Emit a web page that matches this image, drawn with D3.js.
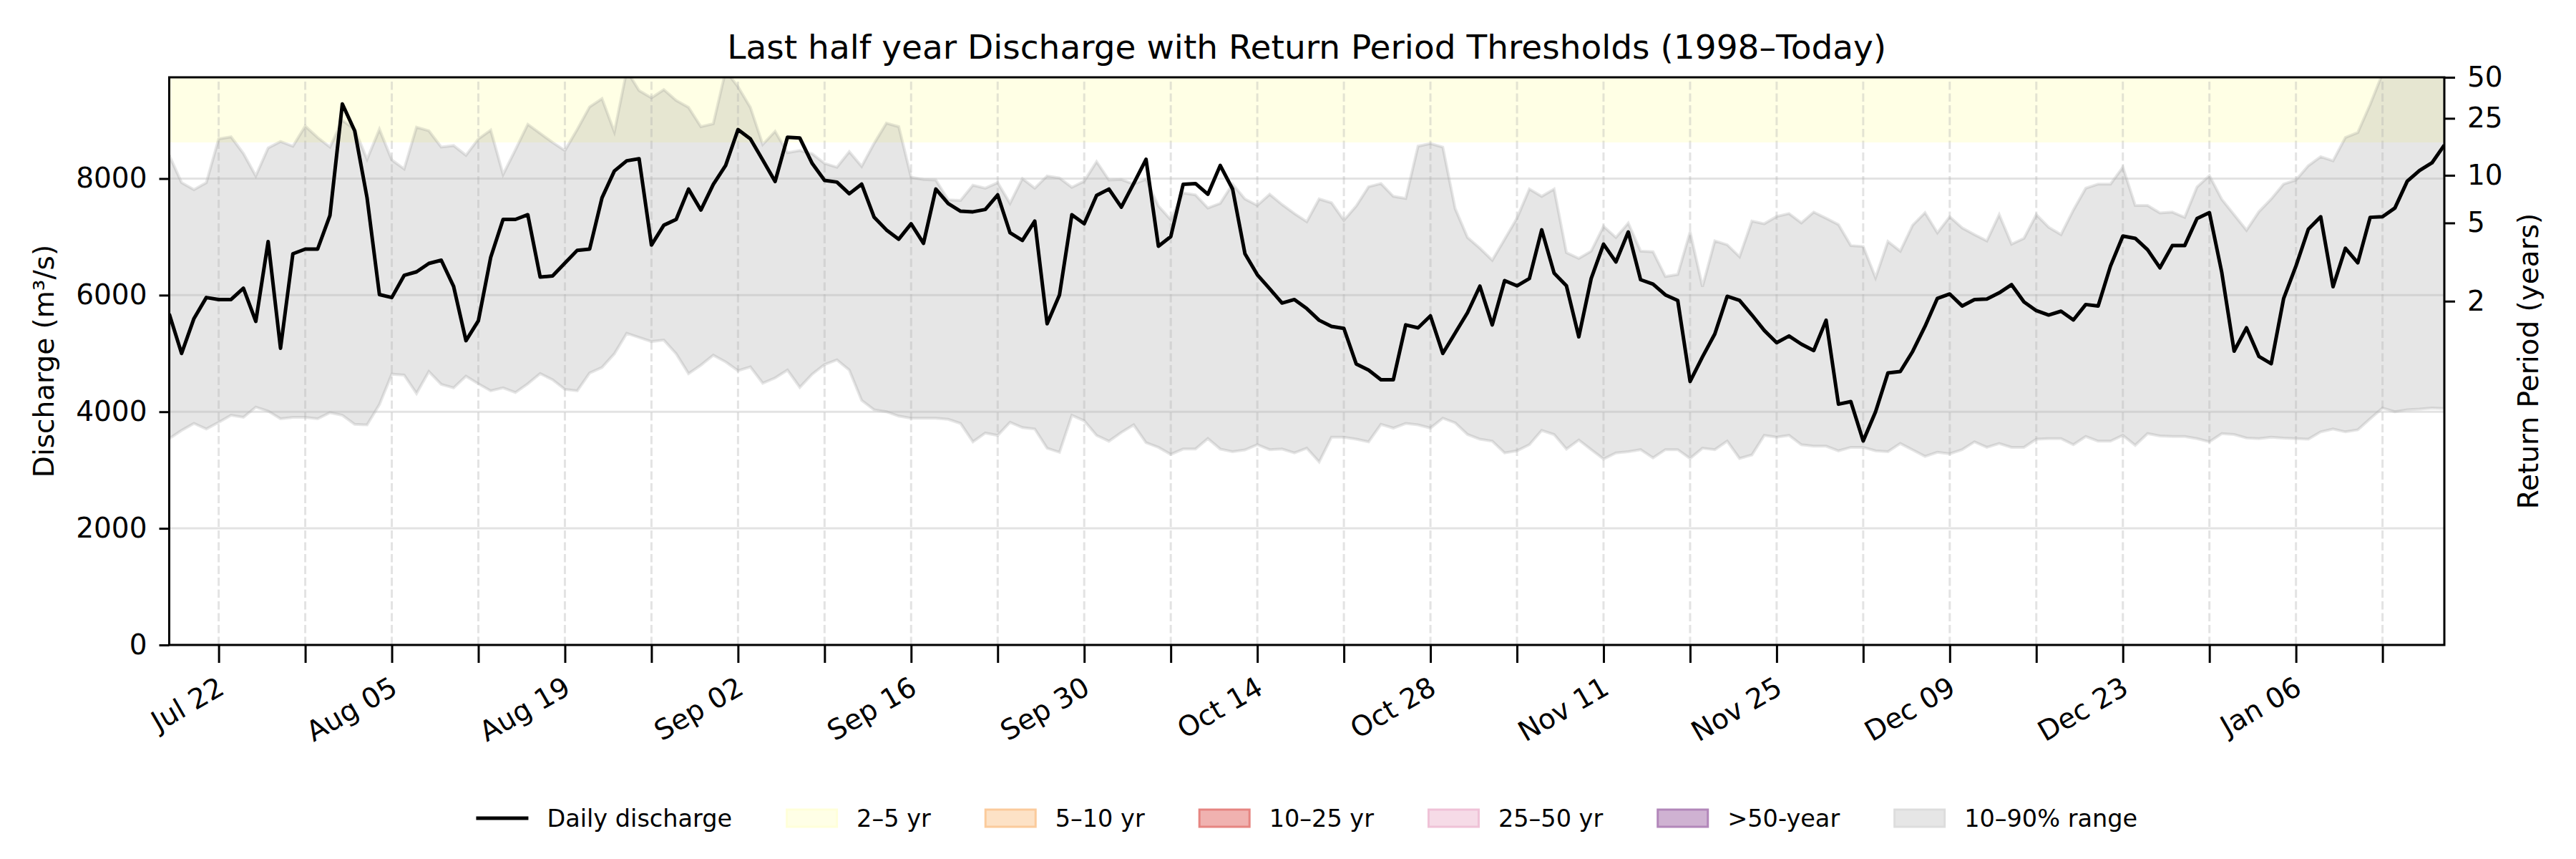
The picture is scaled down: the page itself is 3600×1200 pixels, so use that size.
<!DOCTYPE html>
<html>
<head>
<meta charset="utf-8">
<script src="https://cdn.jsdelivr.net/npm/d3@7"></script>
<style>
  body { margin: 0; background: #fff; }
  svg { display: block; font-family: "DejaVu Sans", sans-serif; }
</style>
</head>
<body>
<svg id="chart" width="3600" height="1200"></svg>
<script>
// daily series, starting Jul 18, one value per day
const startDate = new Date(2024, 6, 18);

const discharge = [
  5680, 5000, 5600, 5960, 5925, 5925, 6120, 5550, 6920, 5090,
  6710, 6790, 6790, 7370, 9280, 8820, 7670, 6010, 5960, 6340,
  6400, 6545, 6600, 6150, 5220, 5560, 6650, 7300, 7300, 7380,
  6310, 6330, 6550, 6770, 6790, 7670, 8130, 8305, 8340, 6860,
  7200, 7300, 7820, 7460, 7900, 8225, 8840, 8680, 8320, 7950,
  8710, 8695, 8260, 7970, 7940, 7740, 7905, 7340, 7120, 6960,
  7225, 6890, 7820, 7570, 7440, 7430, 7470, 7720, 7070, 6940,
  7270, 5510, 6005, 7380, 7225, 7710, 7820, 7510, 7915, 8330,
  6840, 7005, 7900, 7915, 7730, 8225, 7820, 6710, 6350, 6110,
  5865, 5925, 5770, 5570, 5465, 5430, 4820, 4715, 4550, 4550,
  5490, 5440, 5645, 5000, 5350, 5700, 6155, 5490, 6250, 6160,
  6285, 7120, 6380, 6160, 5285, 6285, 6875, 6570, 7085, 6265,
  6190, 6005, 5910, 4520, 4940, 5335, 5980, 5910, 5660, 5395,
  5185, 5300, 5160, 5050, 5570, 4130, 4175, 3500, 4000, 4665,
  4690, 5035, 5465, 5945, 6020, 5815, 5925, 5935, 6040, 6180,
  5885, 5735, 5660, 5725, 5575, 5840, 5815, 6500, 7015, 6975,
  6780, 6470, 6850, 6850, 7315, 7415, 6390, 5040, 5440, 4950,
  4825, 5940, 6500, 7130, 7345, 6145, 6805, 6555, 7335, 7345,
  7495, 7955, 8140, 8270, 8575
];

const p90 = [
  8400, 7930, 7810, 7930, 8680, 8715, 8430, 8045, 8525, 8635,
  8555, 8900, 8705, 8540, 9000, 8845, 8330, 8845, 8320, 8165,
  8880, 8820, 8540, 8565, 8400, 8680, 8830, 8070, 8495, 8930,
  8775, 8620, 8480, 8845, 9230, 9370, 8800, 9850, 9510, 9385,
  9525, 9340, 9220, 8890, 8940, 9850, 9575, 9220, 8585, 8810,
  8445, 8480, 8425, 8260, 8195, 8460, 8210, 8600, 8950, 8890,
  8025, 7985, 7975, 7635, 7625, 7885, 7835, 7930, 7575, 8000,
  7835, 8045, 8010, 7850, 7955, 8290, 7975, 7985, 7905, 7990,
  7530, 7295, 7755, 7720, 7495, 7575, 7905, 7650, 7540, 7730,
  7555, 7400, 7260, 7650, 7585, 7285, 7530, 7860, 7915, 7695,
  7660, 8555, 8600, 8540, 7485, 6990, 6805, 6600, 6960, 7320,
  7820, 7695, 7820, 6730, 6630, 6755, 7180, 6990, 7235, 6755,
  6745, 6320, 6355, 7085, 6145, 6930, 6865, 6660, 7270, 7225,
  7350, 7400, 7240, 7425, 7320, 7210, 6850, 6835, 6300, 6920,
  6755, 7200, 7415, 7070, 7345, 7155, 7040, 6930, 7380, 6875,
  6975, 7380, 7165, 7040, 7460, 7835, 7905, 7905, 8195, 7540,
  7540, 7410, 7425, 7335, 7855, 8050, 7645, 7380, 7115, 7430,
  7650, 7905, 7975, 8220, 8375, 8305, 8705, 8790, 9270, 9800,
  10100, 10300, 10300, 10100, 9900
];

const p10 = [
  3540, 3680, 3800, 3705, 3820, 3940, 3905, 4080, 4010, 3880,
  3905, 3905, 3880, 3985, 3940, 3785, 3775, 4125, 4645, 4630,
  4315, 4690, 4470, 4410, 4610, 4480, 4360, 4410, 4330, 4480,
  4655, 4550, 4385, 4360, 4665, 4760, 4995, 5345, 5275, 5205,
  5230, 4995, 4655, 4800, 4970, 4855, 4705, 4770, 4490, 4580,
  4715, 4420, 4645, 4810, 4890, 4715, 4195, 4035, 4000, 3925,
  3890, 3890, 3890, 3870, 3800, 3485, 3635, 3595, 3820, 3730,
  3705, 3375, 3305, 3940, 3845, 3595, 3495, 3645, 3775, 3470,
  3390, 3270, 3360, 3360, 3540, 3360, 3315, 3345, 3435, 3350,
  3360, 3295, 3375, 3140, 3565, 3565, 3530, 3485, 3785, 3720,
  3800, 3775, 3720, 3890, 3810, 3610, 3530, 3495, 3295, 3330,
  3435, 3680, 3610, 3360, 3515, 3350, 3190, 3295, 3315, 3350,
  3210, 3350, 3350, 3200, 3375, 3350, 3495, 3200, 3260, 3595,
  3565, 3595, 3435, 3410, 3410, 3330, 3390, 3390, 3330, 3315,
  3455, 3345, 3235, 3305, 3280, 3350, 3485, 3390, 3455, 3390,
  3390, 3530, 3540, 3540, 3435, 3575, 3495, 3495, 3595, 3425,
  3625, 3585, 3575, 3575, 3540, 3485, 3625, 3610, 3550, 3540,
  3565, 3550, 3540, 3530, 3655, 3705, 3655, 3690, 3880, 4065,
  4000, 4035, 4045, 4065, 4055
];

// right axis: return period and the discharge it sits at
const returnPeriods = [2, 5, 10, 25, 50];
const returnLevels = [5897, 7239, 8056, 9033, 9737];

// shaded threshold band visible in the window (2-5 yr)
const bandFrom = 8620;
const bandTo = 9737;

const yTicks = [0, 2000, 4000, 6000, 8000];

const legendLabels = ['Daily discharge', '2–5 yr', '5–10 yr', '10–25 yr', '25–50 yr', '>50-year', '10–90% range'];
const legendFills = [null, '#ffffe6', '#fde2c6', '#f0b2b0', '#f6dbe7', '#cfb2d2', '#e6e6e6'];
const legendEdges = [null, '#ffffd9', '#fbcb9c', '#e68581', '#efc2d7', '#b287ba', '#dddddd'];

const W = 3600, H = 1200;
const margin = {left: 236.5, right: 184, top: 108, bottom: 299};
const x0 = margin.left, x1 = W - margin.right;
const y0 = H - margin.bottom, y1 = margin.top;

const rows = discharge.map((v, i) => ({
    date: d3.timeDay.offset(startDate, i),
    q: v,
    lo: p10[i],
    hi: p90[i]
}));

const svg = d3.select('#chart');
svg.append('rect').attr('width', W).attr('height', H).attr('fill', '#fff');

const x = d3.scaleTime()
    .domain([rows[0].date, rows[rows.length - 1].date])
    .range([x0, x1]);
const y = d3.scaleLinear()
    .domain([0, returnLevels[returnLevels.length - 1]])
    .range([y0, y1]);

svg.append('clipPath').attr('id', 'plotclip')
    .append('rect')
    .attr('x', x0).attr('y', y1)
    .attr('width', x1 - x0).attr('height', y0 - y1);

const plot = svg.append('g').attr('clip-path', 'url(#plotclip)');

// threshold band
plot.append('rect')
    .attr('x', x0).attr('width', x1 - x0)
    .attr('y', y(bandTo)).attr('height', y(bandFrom) - y(bandTo))
    .attr('fill', 'rgba(255,255,0,0.1)');

// 10-90% range
const area = d3.area()
    .x(d => x(d.date))
    .y0(d => y(d.lo))
    .y1(d => y(d.hi));
plot.append('path')
    .datum(rows)
    .attr('d', area)
    .attr('fill', 'rgba(128,128,128,0.2)')
    .attr('stroke', 'rgba(128,128,128,0.2)')
    .attr('stroke-width', 4);

// grid
const weekTicks = d3.timeDay.range(new Date(2024, 6, 22), d3.timeDay.offset(x.domain()[1], 1), 7);

plot.selectAll('.hgrid')
    .data(yTicks)
    .join('line')
    .attr('class', 'hgrid')
    .attr('x1', x0).attr('x2', x1)
    .attr('y1', d => y(d)).attr('y2', d => y(d))
    .attr('stroke', '#b0b0b0')
    .attr('stroke-opacity', 0.35)
    .attr('stroke-width', 3);

plot.selectAll('.vgrid')
    .data(weekTicks)
    .join('line')
    .attr('class', 'vgrid')
    .attr('x1', d => x(d)).attr('x2', d => x(d))
    .attr('y1', y0).attr('y2', y1)
    .attr('stroke', '#b0b0b0')
    .attr('stroke-opacity', 0.35)
    .attr('stroke-width', 3)
    .attr('stroke-dasharray', '11.5,5');

// daily discharge
const line = d3.line()
    .x(d => x(d.date))
    .y(d => y(d.q));
plot.append('path')
    .datum(rows)
    .attr('d', line)
    .attr('fill', 'none')
    .attr('stroke', '#000')
    .attr('stroke-width', 5)
    .attr('stroke-linejoin', 'round');

// axes
const fmt = d3.timeFormat('%b %d');

const xAxis = svg.append('g').attr('transform', `translate(0,${y0})`)
    .call(d3.axisBottom(x).tickValues(weekTicks).tickSize(25).tickFormat(''));
xAxis.select('.domain').remove();
xAxis.selectAll('.tick line').attr('stroke', '#000').attr('stroke-width', 3);

svg.selectAll('.xlab')
    .data(weekTicks.filter((d, i) => i % 2 === 0))
    .join('text')
    .attr('class', 'xlab')
    .attr('transform', d => `translate(${x(d) - 4},${y0 + 42}) rotate(-30)`)
    .attr('text-anchor', 'end')
    .attr('dominant-baseline', 'hanging')
    .attr('font-size', 39)
    .attr('fill', '#000')
    .text(d => fmt(d));

const yAxis = svg.append('g').attr('transform', `translate(${x0},0)`)
    .call(d3.axisLeft(y).tickValues(yTicks).tickSize(14).tickPadding(17).tickFormat(d3.format('d')));
yAxis.select('.domain').remove();
yAxis.selectAll('.tick line').attr('stroke', '#000').attr('stroke-width', 3);
yAxis.selectAll('.tick text').attr('font-size', 39).attr('fill', '#000')
    .attr('font-family', '"DejaVu Sans", sans-serif');

const rAxis = svg.append('g').attr('transform', `translate(${x1},0)`)
    .call(d3.axisRight(y).tickValues(returnLevels).tickSize(15).tickPadding(17)
        .tickFormat((d, i) => returnPeriods[i]));
rAxis.select('.domain').remove();
rAxis.selectAll('.tick line').attr('stroke', '#000').attr('stroke-width', 3);
rAxis.selectAll('.tick text').attr('font-size', 39).attr('fill', '#000')
    .attr('font-family', '"DejaVu Sans", sans-serif');

// spines
svg.append('rect')
    .attr('x', x0).attr('y', y1)
    .attr('width', x1 - x0).attr('height', y0 - y1)
    .attr('fill', 'none')
    .attr('stroke', '#000')
    .attr('stroke-width', 3);

// labels
svg.append('text')
    .attr('x', (x0 + x1) / 2).attr('y', 82)
    .attr('text-anchor', 'middle')
    .attr('font-size', 47)
    .text('Last half year Discharge with Return Period Thresholds (1998–Today)');

svg.append('text')
    .attr('transform', `translate(61,${(y0 + y1) / 2}) rotate(-90)`)
    .attr('text-anchor', 'middle')
    .attr('dominant-baseline', 'central')
    .attr('font-size', 39)
    .text('Discharge (m³/s)');

svg.append('text')
    .attr('transform', `translate(3533,${(y0 + y1) / 2}) rotate(-90)`)
    .attr('text-anchor', 'middle')
    .attr('dominant-baseline', 'central')
    .attr('font-size', 39)
    .text('Return Period (years)');

// legend, laid out left to right and centred under the plot
const legend = svg.append('g');
const handleW = 73, handleH = 27, textPad = 26, colGap = 75, legY = 1143;
let cursor = 0;
legendLabels.forEach((lab, i) => {
    const g = legend.append('g');
    if (i === 0) {
        g.append('line')
            .attr('x1', 0).attr('x2', handleW)
            .attr('y1', 0).attr('y2', 0)
            .attr('stroke', '#000').attr('stroke-width', 5);
    } else {
        g.append('rect')
            .attr('x', 1.5).attr('y', -handleH / 2 + 1.5)
            .attr('width', handleW - 3).attr('height', handleH - 3)
            .attr('fill', legendFills[i])
            .attr('stroke', legendEdges[i])
            .attr('stroke-width', 3);
    }
    const t = g.append('text')
        .attr('x', handleW + textPad)
        .attr('y', 0)
        .attr('dominant-baseline', 'central')
        .attr('font-size', 33.5)
        .text(lab);
    const w = handleW + textPad + t.node().getComputedTextLength();
    g.attr('transform', `translate(${cursor},${legY})`);
    cursor += w + colGap;
});
const legWidth = cursor - colGap;
legend.attr('transform', `translate(${(x0 + x1) / 2 - legWidth / 2},0)`);
</script>
</body>
</html>
